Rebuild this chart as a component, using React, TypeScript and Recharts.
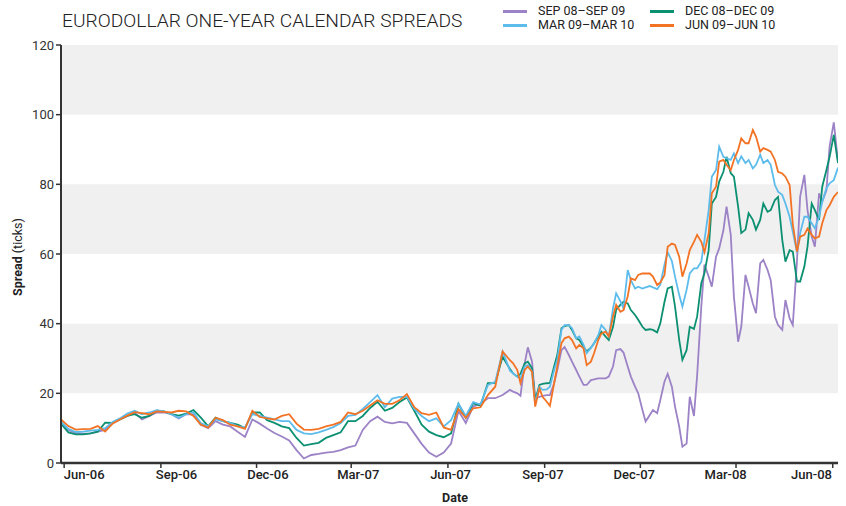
import React from "react";
import { LineChart, Line, XAxis, YAxis, ReferenceArea } from "recharts";

// Weekly points until late July 2007, then twice a week (Mon / Thu).
const DATES = [
  "2006-05-29", "2006-06-05", "2006-06-12", "2006-06-19", "2006-06-26", "2006-07-03", "2006-07-10", "2006-07-17",
  "2006-07-24", "2006-07-31", "2006-08-07", "2006-08-14", "2006-08-21", "2006-08-28", "2006-09-04", "2006-09-11",
  "2006-09-18", "2006-09-25", "2006-10-02", "2006-10-09", "2006-10-16", "2006-10-23", "2006-10-30", "2006-11-06",
  "2006-11-13", "2006-11-20", "2006-11-27", "2006-12-04", "2006-12-11", "2006-12-18", "2006-12-25", "2007-01-01",
  "2007-01-08", "2007-01-15", "2007-01-22", "2007-01-29", "2007-02-05", "2007-02-12", "2007-02-19", "2007-02-26",
  "2007-03-05", "2007-03-12", "2007-03-19", "2007-03-26", "2007-04-02", "2007-04-09", "2007-04-16", "2007-04-23",
  "2007-04-30", "2007-05-07", "2007-05-14", "2007-05-21", "2007-05-28", "2007-06-04", "2007-06-11", "2007-06-18",
  "2007-06-25", "2007-07-02", "2007-07-09", "2007-07-16", "2007-07-23",
  "2007-07-30", "2007-08-02", "2007-08-06", "2007-08-09", "2007-08-13", "2007-08-16", "2007-08-20", "2007-08-23",
  "2007-08-27", "2007-08-30", "2007-09-03", "2007-09-06", "2007-09-10", "2007-09-13", "2007-09-17", "2007-09-20",
  "2007-09-24", "2007-09-27", "2007-10-01", "2007-10-04", "2007-10-08", "2007-10-11", "2007-10-15", "2007-10-18",
  "2007-10-22", "2007-10-25", "2007-10-29", "2007-11-01", "2007-11-05", "2007-11-08", "2007-11-12", "2007-11-15",
  "2007-11-19", "2007-11-22", "2007-11-26", "2007-11-29", "2007-12-03", "2007-12-06", "2007-12-10", "2007-12-13",
  "2007-12-17", "2007-12-20", "2007-12-24", "2007-12-27", "2007-12-31", "2008-01-03", "2008-01-07", "2008-01-10",
  "2008-01-14", "2008-01-17", "2008-01-21", "2008-01-24", "2008-01-28", "2008-01-31", "2008-02-04", "2008-02-07",
  "2008-02-11", "2008-02-14", "2008-02-18", "2008-02-21", "2008-02-25", "2008-02-28", "2008-03-03", "2008-03-06",
  "2008-03-10", "2008-03-13", "2008-03-17", "2008-03-20", "2008-03-24", "2008-03-27", "2008-03-31", "2008-04-03",
  "2008-04-07", "2008-04-10", "2008-04-14", "2008-04-17", "2008-04-21", "2008-04-24", "2008-04-28", "2008-05-01",
  "2008-05-05", "2008-05-08", "2008-05-12", "2008-05-15", "2008-05-19", "2008-05-22", "2008-05-26", "2008-05-29",
  "2008-06-02", "2008-06-06",
];

const SEP08 = [
  11.5, 9.5, 8.6, 8.4, 8.5, 9.0, 9.5, 11.5, 12.5, 13.5, 14.5, 12.5, 13.5, 14.5, 14.5, 14.0,
  12.8, 14.0, 14.0, 11.0, 10.0, 12.0, 11.0, 10.5, 9.0, 7.5, 12.5, 11.3, 9.9, 8.6, 7.6, 6.5,
  3.7, 1.3, 2.3, 2.6, 3.0, 3.2, 3.7, 4.5, 5.0, 9.5, 12.0, 13.3, 11.8, 11.4, 11.8, 11.5,
  8.5, 5.5, 3.0, 1.8, 3.0, 5.6, 15.0, 11.5, 16.2, 17.0, 18.6, 18.6, 19.5,
  21.0, 20.5, 20.0, 19.3, 28.6, 33.2, 29.1, 18.5, 19.0, 19.3, 19.5, 19.5, 22.9, 26.7, 32.4, 33.3,
  31.0, 29.1, 26.7, 24.8, 22.4, 22.4, 23.8, 24.0, 24.3, 24.3, 24.3, 24.8, 27.7, 32.4, 32.7, 31.7,
  27.7, 24.8, 21.9, 20.0, 15.2, 11.9, 13.8, 15.2, 14.3, 18.1, 23.4, 25.6, 21.9, 16.2, 10.4, 4.7,
  5.6, 19.0, 13.5, 25.0, 45.0, 57.0, 53.5, 50.6, 59.2, 61.6, 66.8, 73.6, 65.5, 47.8, 34.8, 39.1,
  54.0, 50.6, 45.8, 43.0, 57.3, 58.3, 55.4, 52.5, 42.0, 39.6, 38.2, 46.8, 41.5, 39.6, 58.0, 76.5,
  82.7, 72.6, 65.0, 62.1, 77.4, 75.0, 78.3, 90.8, 97.8, 86.5,
];

const DEC08 = [
  11.3, 8.8, 8.2, 8.2, 8.5, 9.0, 11.6, 11.5, 12.5, 13.5, 14.0, 13.0, 13.5, 15.0, 14.8, 14.0,
  13.6, 14.2, 15.2, 13.0, 10.5, 13.0, 12.0, 11.5, 11.0, 10.0, 14.5, 14.5, 12.3, 11.5, 10.5, 10.0,
  7.2, 5.0, 5.4, 5.8, 7.2, 8.0, 8.8, 12.0, 12.0, 13.5, 15.8, 17.6, 15.0, 15.8, 17.5, 18.8,
  15.0, 11.0, 9.0, 8.0, 7.4, 8.5, 17.0, 13.0, 17.1, 16.5, 22.9, 23.0, 30.5,
  27.0, 25.7, 24.8, 25.6, 28.6, 29.1, 27.2, 18.0, 22.4, 22.7, 22.9, 23.0, 27.7, 31.0, 38.7, 39.3,
  39.6, 38.2, 35.8, 35.3, 33.4, 32.0, 33.1, 34.4, 36.3, 37.7, 36.3, 35.3, 39.0, 44.0, 45.4, 46.3,
  45.8, 43.9, 42.5, 41.1, 39.1, 38.2, 38.4, 38.2, 37.5, 40.1, 46.3, 50.1, 50.6, 44.9, 35.3, 29.6,
  32.4, 39.1, 38.5, 42.0, 51.6, 54.5, 61.1, 74.5, 76.4, 80.8, 83.6, 87.9, 83.2, 82.2, 73.6, 66.0,
  67.0, 71.7, 69.8, 67.0, 69.8, 74.5, 72.1, 72.6, 75.5, 76.4, 64.0, 57.8, 61.1, 60.7, 52.1, 52.1,
  56.4, 62.1, 74.5, 72.6, 69.8, 79.3, 84.1, 87.9, 94.2, 86.1,
];

const MAR09 = [
  11.8, 9.8, 8.9, 9.0, 9.3, 9.5, 10.0, 11.8, 12.8, 14.2, 15.0, 14.0, 14.5, 15.2, 14.8, 14.0,
  13.0, 14.0, 14.5, 11.5, 10.5, 12.5, 12.0, 11.5, 10.5, 10.2, 14.0, 13.5, 13.0, 12.5, 12.0, 12.0,
  9.5, 8.5, 8.3, 8.8, 9.5, 10.3, 11.5, 13.5, 13.8, 15.5, 17.5, 19.5, 16.0, 18.5, 19.0, 19.0,
  15.5, 13.5, 12.0, 12.8, 10.5, 12.3, 17.0, 13.5, 17.5, 16.8, 22.4, 23.3, 32.0,
  26.5, 25.7, 24.8, 24.3, 27.7, 28.1, 26.2, 17.1, 21.9, 21.0, 21.1, 21.9, 26.7, 29.6, 38.2, 39.6,
  39.6, 38.7, 35.8, 36.3, 33.9, 31.5, 33.1, 34.4, 36.7, 39.6, 38.2, 36.3, 44.4, 48.7, 46.5, 44.4,
  55.4, 52.5, 50.1, 50.6, 50.1, 50.4, 50.8, 50.4, 49.9, 51.2, 57.0, 60.5, 58.0, 53.5, 48.2, 44.9,
  49.7, 54.4, 55.9, 55.9, 57.8, 64.0, 72.6, 82.2, 84.1, 90.8, 87.9, 87.5, 87.0, 88.9, 86.1, 88.0,
  86.1, 87.0, 84.6, 85.6, 88.5, 86.1, 87.0, 85.6, 79.8, 77.9, 76.9, 74.5, 70.7, 66.4, 60.5, 66.0,
  70.7, 70.7, 68.8, 67.4, 70.7, 75.0, 78.9, 80.3, 81.2, 84.8,
];

const JUN09 = [
  12.5, 10.6, 9.6, 9.7, 9.8, 10.6, 9.0, 11.3, 12.5, 13.6, 14.6, 14.3, 14.0, 14.8, 14.7, 14.5,
  15.0, 14.8, 13.5, 11.0, 10.2, 13.0, 12.3, 11.0, 10.5, 9.8, 15.0, 13.2, 12.8, 12.5, 13.5, 14.0,
  11.3, 9.6, 9.5, 9.8, 10.5, 11.0, 11.8, 14.5, 14.0, 15.0, 16.5, 18.0, 17.0, 17.0, 18.0, 19.8,
  16.0, 14.3, 13.8, 14.5, 10.2, 9.5, 15.5, 13.0, 15.7, 16.0, 19.5, 21.9, 32.0,
  29.5, 28.6, 26.7, 22.9, 26.7, 27.7, 26.2, 16.2, 21.4, 19.0, 17.6, 16.4, 22.9, 27.7, 34.4, 35.8,
  36.3, 35.3, 32.9, 33.9, 32.9, 28.1, 29.1, 31.5, 35.3, 37.2, 37.7, 36.3, 42.0, 45.4, 43.4, 43.9,
  47.8, 53.0, 52.5, 54.0, 54.4, 54.4, 54.4, 53.5, 51.1, 51.8, 54.0, 62.1, 63.0, 62.6, 59.2, 53.5,
  57.3, 61.1, 63.5, 65.5, 63.5, 60.5, 65.9, 77.4, 79.3, 86.5, 87.0, 85.6, 84.1, 87.0, 89.9, 93.2,
  91.8, 91.8, 95.6, 93.7, 89.4, 90.4, 89.9, 89.4, 87.0, 83.6, 83.1, 82.2, 79.8, 68.6, 60.7, 65.0,
  65.5, 67.3, 65.5, 64.5, 65.0, 68.8, 72.6, 74.0, 76.4, 77.8,
];

const X_TICKS = [
  "2006-06-01", "2006-09-01", "2006-12-01", "2007-03-01", "2007-06-01",
  "2007-09-01", "2007-12-01", "2008-03-01", "2008-06-01",
];
const Y_TICKS = [0, 20, 40, 60, 80, 100, 120];
const BANDS = [[20, 40], [60, 80], [100, 120]];
const MONTHS = ["Jan", "Feb", "Mar", "Apr", "May", "Jun", "Jul", "Aug", "Sep", "Oct", "Nov", "Dec"];

const SERIES = [
  { key: "sep08", label: "SEP 08–SEP 09", color: "#9c82c6", values: SEP08 },
  { key: "dec08", label: "DEC 08–DEC 09", color: "#0b9072", values: DEC08 },
  { key: "mar09", label: "MAR 09–MAR 10", color: "#5dbcec", values: MAR09 },
  { key: "jun09", label: "JUN 09–JUN 10", color: "#f37325", values: JUN09 },
];

const FONT = "Roboto, 'Liberation Sans', sans-serif";
const DAY = 86400000;

const toDay = (s: string) => Date.parse(s + "T00:00:00Z") / DAY;

function fmtDate(day: number) {
  const d = new Date(Math.round(day) * DAY);
  return `${MONTHS[d.getUTCMonth()]}-${String(d.getUTCFullYear() % 100).padStart(2, "0")}`;
}

// labels in the source sit a bit right of the early ticks and left of the late ones
function DateTick({ x, y, payload }: any) {
  const shift = 22.9 - 0.0452 * x;
  return (
    <text x={x + shift} y={y} dy="0.71em" textAnchor="middle" fontSize={13} fontWeight={500} fill="#222" fontFamily={FONT}>
      {fmtDate(payload.value)}
    </text>
  );
}

const data = DATES.map((d, i) => {
  const row: Record<string, number> = { t: toDay(d) };
  for (const s of SERIES) row[s.key] = s.values[i];
  return row;
});

export default function App() {
  return (
    <div style={{ position: "absolute", left: 0, top: 0, width: 846, height: 506, background: "#fff", fontFamily: FONT }}>
      <div style={{ position: "absolute", left: 62, top: 11, fontSize: 19.2, fontWeight: 300, color: "#222", lineHeight: 1, whiteSpace: "nowrap" }}>
        EURODOLLAR ONE-YEAR CALENDAR SPREADS
      </div>

      <div style={{ position: "absolute", left: 503, top: 4, display: "grid", gridTemplateColumns: "147px 147px", fontSize: 12.5, color: "#222", lineHeight: "14px" }}>
        {SERIES.map((s) => (
          <div key={s.key} style={{ display: "flex", alignItems: "center", whiteSpace: "nowrap" }}>
            <span style={{ display: "inline-block", width: 24, height: 3, background: s.color, marginRight: 11 }} />
            {s.label}
          </div>
        ))}
      </div>

      <div style={{ position: "absolute", left: 17, top: 257, transform: "translate(-50%, -50%) rotate(-90deg)", fontSize: 12.5, color: "#222", whiteSpace: "nowrap" }}>
        <b>Spread</b> (ticks)
      </div>
      <div style={{ position: "absolute", left: 455, top: 498, transform: "translate(-50%, -50%)", fontSize: 12.5, fontWeight: 700, color: "#222", lineHeight: 1 }}>
        Date
      </div>

      <LineChart width={846} height={506} data={data} margin={{ top: 45, right: 8, bottom: 0, left: 0 }}>
        {BANDS.map(([a, b]) => (
          <ReferenceArea key={a} y1={a} y2={b} fill="#f0f0f0" fillOpacity={1} stroke="none" ifOverflow="visible" />
        ))}
        <XAxis
          dataKey="t"
          type="number"
          domain={[toDay(DATES[0]), toDay(DATES[DATES.length - 1])]}
          ticks={X_TICKS.map(toDay)}
          tick={<DateTick />}
          tickSize={5}
          height={43}
          axisLine={{ stroke: "#333", strokeWidth: 2.5 }}
          tickLine={{ stroke: "#333", strokeWidth: 1.5 }}
          allowDataOverflow
        />
        <YAxis
          domain={[0, 120]}
          ticks={Y_TICKS}
          width={61}
          tickSize={5}
          tick={{ fontSize: 13, fill: "#333", fontFamily: FONT }}
          axisLine={{ stroke: "#333", strokeWidth: 2 }}
          tickLine={{ stroke: "#333", strokeWidth: 1.5 }}
        />
        {SERIES.map((s) => (
          <Line
            key={s.key}
            dataKey={s.key}
            stroke={s.color}
            strokeWidth={1.8}
            dot={false}
            type="linear"
            isAnimationActive={false}
          />
        ))}
      </LineChart>
    </div>
  );
}
